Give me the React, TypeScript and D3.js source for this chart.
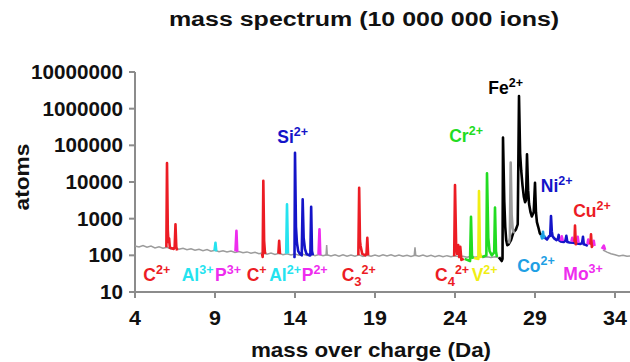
import React from "react";
import * as d3 from "d3";

const W = 630;
const H = 362;

// ---------- axes ----------
const xDomain = [4, 35];
const yDomain = [10, 1e7];
const xTicks = [4, 9, 14, 19, 24, 29, 34];
const yTicks = [10, 100, 1000, 10000, 100000, 1000000, 10000000];

// ---------- background (noise) counts, step 0.25 Da ----------
const bgStep = 0.25;
const bgLeftStart = 4;
const bgLeft = [
  180, 170, 186, 166, 178, 160, 172, 156, 166, 150, 160, 146, 156, 142, 150, 138,
  147, 134, 143, 130, 138, 126, 134, 123, 131, 120, 127, 117, 124, 114, 121, 111,
  117, 108, 115, 106, 113, 104, 111, 102, 108, 100, 107, 99, 106, 98, 105, 97,
  104, 96, 103, 95, 104, 94, 102, 95, 103, 93, 101, 94, 102, 95, 104, 96,
  103, 94, 102, 95, 101, 93, 100, 94, 102, 93, 100, 92, 99, 91, 98, 92,
  97, 91, 95, 89, 94, 89, 93, 88, 92, 87, 91, 86, 90,
];
const bgRightStart = 33.25;
const bgRight = [140, 122, 110, 104, 96, 101, 94, 97];

// small unassigned (grey) peaks
const grey16 = [[15.94, 100], [15.98, 190], [16.02, 98]];
const grey21 = [[21.45, 98], [21.5, 165], [21.55, 96]];
const greyMn = [[27.36, 210], [27.43, 300], [27.48, 34000], [27.54, 1300], [27.6, 560], [27.68, 400]];

// ---------- ion peaks [m/z, counts] ----------
const c2Peaks = [[5.96, 165], [6.0, 33000], [6.05, 500], [6.09, 230], [6.13, 290], [6.18, 160], [6.42, 150], [6.48, 170], [6.53, 700], [6.58, 170], [6.63, 135]];
const al3Peak = [[8.97, 135], [9.03, 220], [9.08, 128]];
const p3Peak = [[10.28, 128], [10.34, 470], [10.39, 124]];
const c1Peaks = [[11.94, 110], [11.98, 90], [12.02, 10800], [12.07, 250], [12.12, 120], [12.17, 110]];
const c13Peak = [[12.96, 112], [13.01, 250], [13.06, 108]];
const al2Peak = [[13.45, 110], [13.5, 2450], [13.56, 112]];
const si2Peaks = [[13.94, 95], [13.97, 90], [14.0, 63000], [14.06, 600], [14.12, 220], [14.2, 130], [14.3, 110], [14.42, 100], [14.48, 3400], [14.54, 300], [14.62, 150], [14.72, 110], [14.9, 100], [14.96, 100], [15.01, 2100], [15.06, 130], [15.12, 100]];
const p2Peak = [[15.47, 105], [15.53, 515], [15.58, 100]];
const c3Peaks = [[17.96, 100], [18.01, 7000], [18.06, 250], [18.1, 180], [18.2, 110], [18.4, 100], [18.47, 110], [18.52, 300], [18.57, 100]];
const c4Peaks = [[23.95, 95], [24.0, 8300], [24.07, 200], [24.13, 110], [24.2, 190], [24.27, 90], [24.33, 170], [24.4, 75], [24.55, 80]];
const cr50Peak = [[24.6, 80], [24.94, 70], [25.0, 1130], [25.06, 100], [25.12, 80]];
const v51Peak = [[25.2, 85], [25.46, 80], [25.5, 5700], [25.56, 120], [25.64, 85]];
const cr52Peaks = [[25.7, 90], [25.96, 100], [26.0, 17400], [26.08, 300], [26.16, 130], [26.3, 100], [26.45, 120], [26.5, 2000], [26.56, 130], [26.62, 90]];
const fePeaks = [[26.75, 88], [26.92, 70], [26.97, 80], [27.0, 163000], [27.08, 3000], [27.14, 600], [27.2, 260], [27.27, 190], [27.35, 200], [27.5, 260], [27.65, 420], [27.8, 500], [27.92, 700], [28.0, 2200000], [28.07, 60000], [28.14, 20000], [28.22, 8000], [28.3, 4000], [28.38, 2800], [28.44, 3200], [28.5, 57000], [28.57, 6000], [28.63, 2500], [28.72, 1500], [28.8, 1150], [28.92, 1500], [29.0, 9500], [29.06, 1500], [29.12, 800], [29.2, 600], [29.3, 400], [29.38, 360]];
const coPeak = [[29.38, 360], [29.44, 290], [29.5, 440], [29.55, 300], [29.6, 330], [29.66, 300]];
const niPeaks = [[29.62, 300], [29.75, 270], [29.88, 330], [29.95, 340], [30.0, 1180], [30.05, 450], [30.1, 330], [30.2, 290], [30.35, 260], [30.43, 280], [30.48, 360], [30.53, 250], [30.6, 240], [30.8, 230], [30.9, 250], [30.96, 340], [31.02, 230], [31.15, 225], [31.4, 220], [31.6, 210], [31.85, 205], [31.94, 215], [32.0, 320], [32.05, 200], [32.2, 190], [32.3, 180]];
const mo92Peak = [[30.6, 250], [30.67, 330], [30.74, 245]];
const mo95Peak = [[31.28, 240], [31.33, 300], [31.38, 230]];
const mo96Peak = [[31.62, 230], [31.67, 320], [31.72, 220]];
const mo98Peak = [[32.28, 205], [32.33, 270], [32.38, 195]];
const mo99Peak = [[32.62, 190], [32.67, 250], [32.72, 180]];
const mo100Peak = [[33.18, 150], [33.3, 185], [33.38, 140]];
const cu63Peak = [[31.42, 230], [31.47, 240], [31.5, 650], [31.55, 200], [31.6, 230]];
const cu65Peak = [[32.42, 200], [32.47, 210], [32.5, 375], [32.55, 170], [32.6, 190]];

// ---------- colours ----------
const RED = "#ec1c24";
const CYAN = "#25e3ef";
const MAGENTA = "#ee2cee";
const BLUE = "#1414c8";
const GREEN = "#22dc22";
const YELLOW = "#f0ee14";
const BLACK = "#000000";
const COBLUE = "#1ea0e4";
const GREY = "#9c9c9c";

const peakSeries = [
  { pts: c2Peaks, color: RED },
  { pts: al3Peak, color: CYAN },
  { pts: p3Peak, color: MAGENTA },
  { pts: c1Peaks, color: RED },
  { pts: c13Peak, color: RED },
  { pts: al2Peak, color: CYAN },
  { pts: si2Peaks, color: BLUE },
  { pts: p2Peak, color: MAGENTA },
  { pts: c3Peaks, color: RED },
  { pts: c4Peaks, color: RED },
  { pts: cr50Peak, color: GREEN },
  { pts: v51Peak, color: YELLOW },
  { pts: cr52Peaks, color: GREEN },
  { pts: fePeaks, color: BLACK },
  { pts: greyMn, color: GREY },
  { pts: coPeak, color: COBLUE },
  { pts: niPeaks, color: BLUE },
  { pts: mo92Peak, color: MAGENTA },
  { pts: mo95Peak, color: MAGENTA },
  { pts: mo96Peak, color: MAGENTA },
  { pts: mo98Peak, color: MAGENTA },
  { pts: mo99Peak, color: MAGENTA },
  { pts: mo100Peak, color: MAGENTA },
  { pts: cu63Peak, color: RED },
  { pts: cu65Peak, color: RED },
];

// ---------- ion labels (anchor in data units) ----------
const ionLabels = [
  { base: "C", sub: "", sup: "2+", mz: 4.52, count: 20.3, color: RED },
  { base: "Al", sub: "", sup: "3+", mz: 6.92, count: 20.3, color: CYAN },
  { base: "P", sub: "", sup: "3+", mz: 9.0, count: 20.3, color: MAGENTA },
  { base: "C", sub: "", sup: "+", mz: 10.98, count: 20.3, color: RED },
  { base: "Al", sub: "", sup: "2+", mz: 12.39, count: 20.3, color: CYAN },
  { base: "P", sub: "", sup: "2+", mz: 14.42, count: 20.3, color: MAGENTA },
  { base: "C", sub: "3", sup: "2+", mz: 16.92, count: 20.3, color: RED },
  { base: "C", sub: "4", sup: "2+", mz: 22.75, count: 20.3, color: RED },
  { base: "V", sub: "", sup: "2+", mz: 25.04, count: 20.3, color: YELLOW },
  { base: "Co", sub: "", sup: "2+", mz: 27.89, count: 35.8, color: COBLUE },
  { base: "Mo", sub: "", sup: "3+", mz: 30.77, count: 21.2, color: MAGENTA },
  { base: "Si", sub: "", sup: "2+", mz: 12.89, count: 113500, color: BLUE },
  { base: "Cr", sub: "", sup: "2+", mz: 23.64, count: 120000, color: GREEN },
  { base: "Fe", sub: "", sup: "2+", mz: 26.08, count: 2500000, color: BLACK },
  { base: "Ni", sub: "", sup: "2+", mz: 29.36, count: 5430, color: BLUE },
  { base: "Cu", sub: "", sup: "2+", mz: 31.39, count: 1130, color: RED },
];

const FONT = "'Liberation Sans', Arial, Helvetica, sans-serif";

function SText(props: {
  x: number;
  y: number;
  sx?: number;
  rotate?: number;
  size: number;
  anchor?: string;
  dy?: string;
  fill?: string;
  children: React.ReactNode;
}) {
  const { x, y, sx = 1, rotate = 0, size, anchor = "start", dy, fill = "#111", children } = props;
  const t = `translate(${x},${y})` + (rotate ? ` rotate(${rotate})` : "") + ` scale(${sx},1)`;
  return (
    <text transform={t} textAnchor={anchor} fontSize={size} fontWeight="bold" fill={fill} dy={dy}>
      {children}
    </text>
  );
}

export default function App() {
  const x = d3.scaleLinear().domain(xDomain).range([135, 631]);
  const y = d3.scaleLog().domain(yDomain).range([292, 72]);
  const line = d3
    .line<number[]>()
    .x((d) => x(d[0]))
    .y((d) => y(d[1]));

  const bgL = bgLeft.map((v, i) => [bgLeftStart + i * bgStep, v]);
  const bgR = bgRight.map((v, i) => [bgRightStart + i * bgStep, v]);

  const axisColor = "#8c8c8c";

  return (
    <div style={{ position: "absolute", left: 0, top: 0 }}>
      <svg width={W} height={H} style={{ display: "block", background: "#fff" }} fontFamily={FONT}>
        {/* title */}
        <SText x={364} y={26} sx={1.25} size={20} anchor="middle">
          mass spectrum (10 000 000 ions)
        </SText>

        {/* axes */}
        <line x1={x(4)} x2={x(35)} y1={y(10)} y2={y(10)} stroke={axisColor} strokeWidth={2} />
        <line x1={x(4)} x2={x(4)} y1={y(1e7)} y2={y(10) + 3} stroke={axisColor} strokeWidth={2} />
        {yTicks.map((t) => (
          <g key={"y" + t}>
            <line x1={x(4) - 6} x2={x(4)} y1={y(t)} y2={y(t)} stroke={axisColor} strokeWidth={2} />
            <SText x={123} y={y(t)} dy="0.36em" sx={1.06} size={19.5} anchor="end">
              {String(t)}
            </SText>
          </g>
        ))}
        {xTicks.map((t) => (
          <g key={"x" + t}>
            <line x1={x(t)} x2={x(t)} y1={y(10)} y2={y(10) + 6} stroke={axisColor} strokeWidth={2} />
            <SText x={x(t)} y={325} sx={1.1} size={19.5} anchor="middle">
              {String(t)}
            </SText>
          </g>
        ))}
        <SText x={371} y={357} sx={1.12} size={20} anchor="middle">
          mass over charge (Da)
        </SText>
        <SText x={29} y={177} rotate={-90} sx={1.08} size={21} anchor="middle">
          atoms
        </SText>

        {/* spectrum */}
        <path d={line(bgL) || ""} fill="none" stroke={GREY} strokeWidth={1.5} />
        <path d={line(bgR) || ""} fill="none" stroke={GREY} strokeWidth={1.5} />
        <path d={line(grey16) || ""} fill="none" stroke={GREY} strokeWidth={1.5} />
        <path d={line(grey21) || ""} fill="none" stroke={GREY} strokeWidth={1.5} />
        {peakSeries.map((s, i) => (
          <path key={i} d={line(s.pts) || ""} fill="none" stroke={s.color} strokeWidth={2.6} strokeLinejoin="round" />
        ))}

        {/* ion labels */}
        {ionLabels.map((l, i) => (
          <text key={i} x={x(l.mz)} y={y(l.count)} fontSize={17.5} fontWeight="bold" fill={l.color}>
            {l.base}
            {l.sub ? (
              <tspan fontSize={13} dy={5}>
                {l.sub}
              </tspan>
            ) : null}
            <tspan fontSize={12.5} dy={l.sub ? -12 : -7}>
              {l.sup}
            </tspan>
          </text>
        ))}
      </svg>
    </div>
  );
}
